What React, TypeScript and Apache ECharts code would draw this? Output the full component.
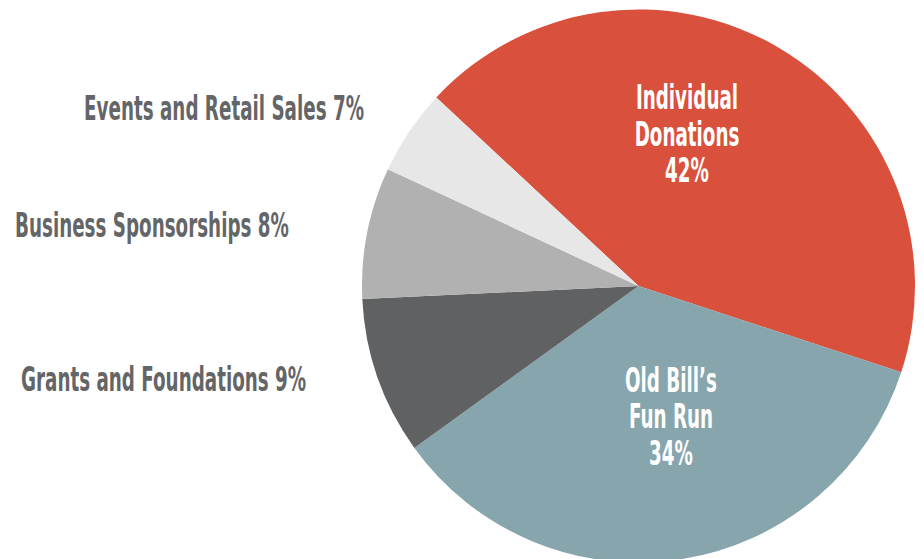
import React, { useEffect, useRef } from "react";
import * as echarts from "echarts";

// ---- data ----
const categories = [
  "Individual Donations",
  "Old Bill’s Fun Run",
  "Grants and Foundations",
  "Business Sponsorships",
  "Events and Retail Sales",
];
// slice sizes as drawn in the picture
const sliceValues = [43.1, 35.0, 9.2, 7.7, 5.0];
// percentages printed in the labels
const labelPercents = [42, 34, 9, 8, 7];
const insideLines = [
  ["Individual", "Donations"],
  ["Old Bill’s", "Fun Run"],
];
const sliceColors = ["#D9503D", "#87A5AC", "#606163", "#B1B1B1", "#E6E7E6"];

// ---- layout (label anchors) ----
const FONT_FAMILY = "'Liberation Sans Narrow', 'DejaVu Sans Condensed', Roboto, sans-serif";
const FONT_SIZE = 33;
const TEXT_GRAY = "#646567";
const outsideAnchors: Record<number, { x: number; y: number; align: "left" | "right" }> = {
  4: { x: 364, y: 109, align: "right" },
  3: { x: 15, y: 226, align: "left" },
  2: { x: 21, y: 380, align: "left" },
};
const insideAnchors: Record<number, { x: number; y: number }> = {
  0: { x: 687, y: 134.5 },
  1: { x: 671, y: 417 },
};
const OUTSIDE_TARGET_WIDTH = 277 + 280 + 282;

function measure(text: string): number {
  const c = document.createElement("canvas");
  const ctx = c.getContext("2d");
  if (!ctx) return text.length * FONT_SIZE * 0.5;
  ctx.font = `bold ${FONT_SIZE}px ${FONT_FAMILY}`;
  return ctx.measureText(text).width;
}

export default function App() {
  const ref = useRef<HTMLDivElement>(null);

  useEffect(() => {
    if (!ref.current) return;
    const chart = echarts.init(ref.current, undefined, { renderer: "svg" });

    const outsideTexts = [4, 3, 2].map(
      (i) => `${categories[i]} ${labelPercents[i]}%`
    );
    const measured = outsideTexts.reduce((s, t) => s + measure(t), 0);
    const sx = measured > 0 ? OUTSIDE_TARGET_WIDTH / measured : 0.8;

    const graphics: any[] = [];
    [4, 3, 2].forEach((i, k) => {
      const a = outsideAnchors[i];
      graphics.push({
        type: "text",
        x: a.x,
        y: a.y,
        scaleX: sx,
        silent: true,
        style: {
          text: outsideTexts[k],
          fill: TEXT_GRAY,
          fontFamily: FONT_FAMILY,
          fontSize: FONT_SIZE,
          fontWeight: "bold",
          align: a.align,
          verticalAlign: "middle",
        },
      });
    });
    [0, 1].forEach((i) => {
      const a = insideAnchors[i];
      graphics.push({
        type: "text",
        x: a.x,
        y: a.y,
        scaleX: sx,
        silent: true,
        z: 100,
        style: {
          text: [...insideLines[i], `${labelPercents[i]}%`].join("\n"),
          fill: "#FFFFFF",
          fontFamily: FONT_FAMILY,
          fontSize: FONT_SIZE,
          fontWeight: "bold",
          lineHeight: 36.5,
          align: "center",
          verticalAlign: "middle",
        },
      });
    });

    chart.setOption({
      animation: false,
      backgroundColor: "#FFFFFF",
      series: [
        {
          type: "pie",
          center: [638.5, 286],
          radius: 276.5,
          startAngle: 137,
          clockwise: true,
          label: { show: false },
          labelLine: { show: false },
          emphasis: { disabled: true },
          itemStyle: { borderWidth: 0 },
          data: categories.map((name, i) => ({
            name,
            value: sliceValues[i],
            itemStyle: { color: sliceColors[i] },
          })),
        },
      ],
      graphic: graphics,
    });

    return () => chart.dispose();
  }, []);

  return (
    <div
      ref={ref}
      style={{ position: "fixed", left: 0, top: 0, width: 924, height: 559 }}
    />
  );
}
